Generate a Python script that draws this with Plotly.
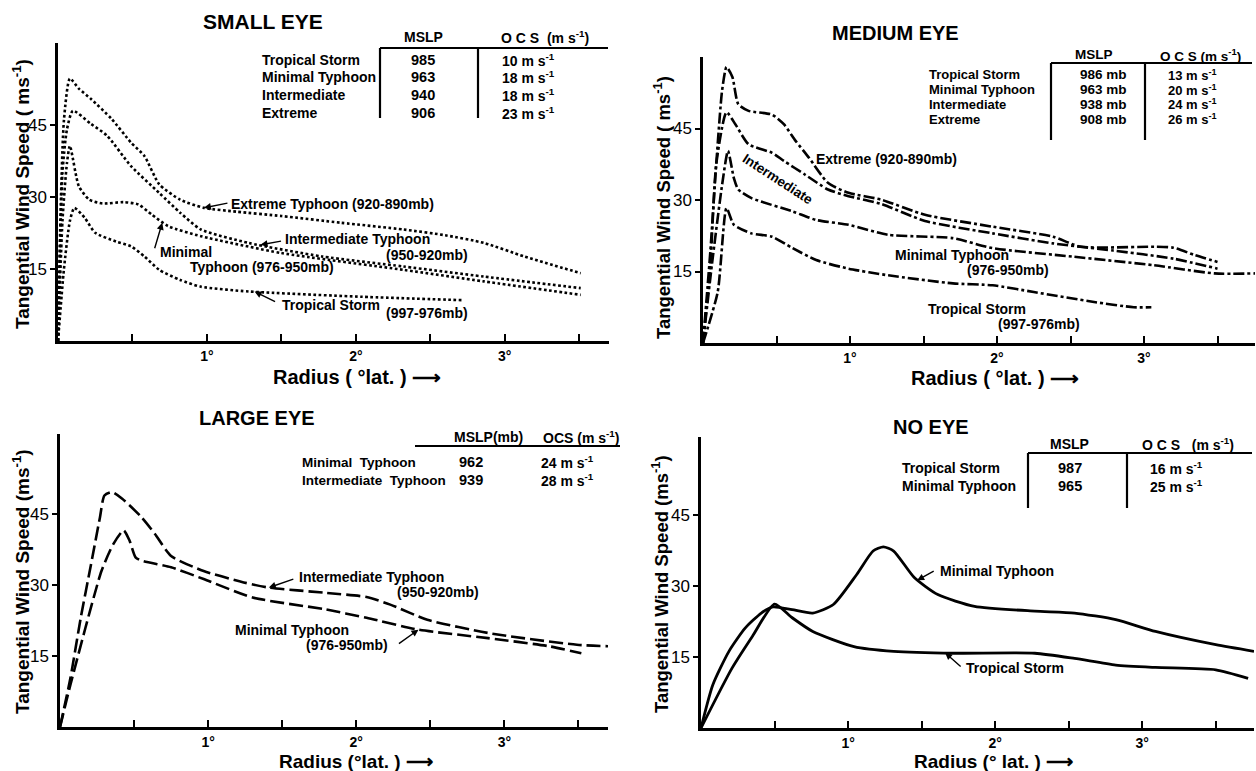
import plotly.graph_objects as go

W, H = 1256, 771

# ---------------- SMALL EYE (dotted) ----------------
small_ext_r = [0, 0.02, 0.04, 0.08, 0.14, 0.22, 0.36, 0.49, 0.58, 0.68, 0.82, 0.98, 1.2, 1.5, 1.9, 2.32, 2.6, 2.86, 3.13, 3.51]
small_ext_v = [0, 30, 46, 54.6, 52.5, 50.4, 46.2, 41.3, 38.5, 32.6, 29.4, 27.7, 26.9, 26.0, 24.6, 23.2, 22.0, 20.4, 17.6, 14.1]
small_int_r = [0, 0.03, 0.06, 0.10, 0.22, 0.33, 0.49, 0.68, 0.82, 0.96, 1.28, 1.77, 2.32, 2.86, 3.51]
small_int_v = [0, 35, 44, 47.9, 45.2, 42.7, 36.4, 30.8, 26.7, 23.2, 20.4, 17.6, 15.5, 13.4, 11.0]
small_min_r = [0, 0.03, 0.06, 0.08, 0.14, 0.21, 0.30, 0.44, 0.54, 0.63, 0.74, 0.96, 1.5, 2.32, 2.86, 3.51]
small_min_v = [0, 25, 37, 40.6, 32.2, 29.4, 28.6, 28.9, 28.4, 26.3, 23.9, 21.8, 18.3, 14.8, 12.4, 9.6]
small_ts_r = [0, 0.04, 0.08, 0.11, 0.18, 0.25, 0.39, 0.49, 0.58, 0.68, 0.82, 0.96, 1.28, 2.04, 2.72]
small_ts_v = [0, 15, 25, 27.7, 25.6, 22.5, 20.7, 19.7, 17.6, 14.8, 12.7, 11.3, 10.3, 9.2, 8.5]

# ---------------- MEDIUM EYE (dash-dot) ----------------
med_ext_r = [0, 0.05, 0.09, 0.13, 0.16, 0.20, 0.24, 0.31, 0.47, 0.55, 0.63, 0.72, 0.85, 0.99, 1.21, 1.51, 1.97, 2.38, 2.57, 3.07, 3.20, 3.34, 3.50]
med_ext_v = [0, 19.2, 37.5, 53.0, 57.9, 55.8, 50.1, 48.7, 47.9, 45.9, 42.4, 38.9, 33.6, 31.5, 30.1, 26.9, 24.4, 22.3, 20.2, 20.2, 20.0, 18.5, 17.0]
med_int_r = [0, 0.05, 0.09, 0.16, 0.22, 0.31, 0.47, 0.55, 0.69, 0.85, 0.99, 1.21, 1.51, 1.97, 2.38, 2.79, 3.20, 3.50]
med_int_v = [0, 16.3, 37.5, 48.4, 45.9, 41.7, 39.9, 38.2, 35.4, 32.2, 30.8, 29.2, 25.6, 23.0, 20.9, 19.4, 17.7, 15.6]
med_min_r = [0, 0.06, 0.13, 0.17, 0.21, 0.24, 0.33, 0.61, 0.77, 0.99, 1.26, 1.70, 1.97, 2.52, 3.07, 3.48, 3.76]
med_min_v = [0, 16.3, 33.2, 40.3, 34.6, 32.2, 30.4, 27.6, 25.8, 24.8, 22.7, 22.0, 19.9, 18.1, 16.3, 14.6, 14.6]
med_ts_r = [0, 0.10, 0.16, 0.21, 0.33, 0.47, 0.61, 0.77, 0.99, 1.26, 1.70, 1.97, 2.25, 2.66, 2.93, 3.05]
med_ts_v = [0, 10.7, 28.3, 24.8, 23.0, 22.3, 19.9, 17.4, 15.6, 14.2, 12.5, 12.1, 10.7, 8.6, 7.5, 7.5]

# ---------------- LARGE EYE (long dash) ----------------
lg_int_r = [0, 0.07, 0.14, 0.21, 0.27, 0.30, 0.35, 0.42, 0.55, 0.64, 0.75, 0.97, 1.24, 1.41, 1.79, 2.07, 2.23, 2.48, 2.89, 3.49, 3.70]
lg_int_v = [0, 10.3, 23.1, 34.5, 44.4, 49.0, 49.7, 48.3, 44.4, 40.9, 36.2, 33.0, 30.6, 29.5, 28.4, 27.5, 25.9, 22.7, 19.9, 17.4, 17.1]
lg_min_r = [0, 0.07, 0.28, 0.36, 0.43, 0.47, 0.51, 0.55, 0.75, 0.97, 1.30, 1.79, 2.07, 2.42, 2.89, 3.30, 3.52]
lg_min_v = [0, 8.9, 33.0, 38.7, 41.6, 39.4, 35.9, 35.2, 33.8, 31.3, 27.4, 24.9, 23.1, 20.6, 18.8, 17.1, 15.6]

# ---------------- NO EYE (solid) ----------------
no_min_r = [0, 0.08, 0.19, 0.30, 0.41, 0.49, 0.62, 0.76, 0.90, 1.06, 1.17, 1.24, 1.31, 1.45, 1.61, 1.86, 2.27, 2.54, 2.82, 3.09, 3.50, 3.76]
no_min_v = [0, 9.1, 16.2, 21.1, 24.3, 25.6, 25.0, 24.3, 26.1, 32.5, 37.4, 38.3, 37.4, 31.8, 28.2, 25.7, 24.7, 24.3, 22.9, 20.4, 17.6, 16.2]
no_ts_r = [0, 0.21, 0.35, 0.50, 0.62, 0.76, 1.04, 1.31, 1.72, 2.27, 2.54, 2.82, 3.09, 3.50, 3.72]
no_ts_v = [0, 12.6, 19.4, 26.2, 23.3, 20.4, 17.2, 16.2, 15.8, 15.8, 14.7, 13.3, 12.8, 12.3, 10.5]

# tick values
y_ticks = [15, 30, 45]
x_ticks = [0.5, 1, 1.5, 2, 2.5, 3, 3.5]
x_tick_text = ["", "1°", "", "2°", "", "3°", ""]

FONT = "Liberation Sans"
INK = "black"


def px(x):
    return x / W


def py(y):
    return 1 - y / H


fig = go.Figure()

# panel geometry in page pixels: (left, right, bottom, top, xmax, ymax)
panels = {
    1: (58, 609, 341, 43, 3.70, 62.0),
    2: (703, 1255, 343, 57, 3.755, 60.0),
    3: (60, 608, 727, 434, 3.70, 62.0),
    4: (701, 1254, 728, 437, 3.76, 61.5),
}

layout_axes = {}
for i, (l, r, b, t, xm, ym) in panels.items():
    sfx = "" if i == 1 else str(i)
    layout_axes["xaxis" + sfx] = dict(
        domain=[px(l), px(r)], range=[0, xm], anchor="y" + sfx,
        showline=True, linecolor=INK, linewidth=2.5, showgrid=False, zeroline=False,
        tickmode="array", tickvals=x_ticks, ticktext=x_tick_text,
        ticks="inside", ticklen=7, tickwidth=2, tickcolor=INK,
        tickfont=dict(family=FONT, size=14, color=INK, weight="bold"),
        ticklabelstandoff=0,
    )
    layout_axes["yaxis" + sfx] = dict(
        domain=[py(b), py(t)], range=[0, ym], anchor="x" + sfx,
        showline=True, linecolor=INK, linewidth=2.5, showgrid=False, zeroline=False,
        tickmode="array", tickvals=y_ticks,
        ticks="outside", ticklen=5, tickwidth=2, tickcolor=INK,
        tickfont=dict(family=FONT, size=17, color=INK),
        ticklabelstandoff=0,
    )


def curve(r, v, xa, ya, dash, width=2.6):
    fig.add_trace(go.Scatter(
        x=r, y=v, xaxis=xa, yaxis=ya, mode="lines",
        line=dict(color=INK, width=width, dash=dash, shape="spline", smoothing=0.6),
        showlegend=False, hoverinfo="skip",
    ))


DOT = "2.7px,2.5px"
DASHDOT = "11px,3px,3px,3px"
LONGDASH = "14px,5px"

curve(small_ext_r, small_ext_v, "x", "y", DOT)
curve(small_int_r, small_int_v, "x", "y", DOT)
curve(small_min_r, small_min_v, "x", "y", DOT)
curve(small_ts_r, small_ts_v, "x", "y", DOT)

curve(med_ext_r, med_ext_v, "x2", "y2", DASHDOT)
curve(med_int_r, med_int_v, "x2", "y2", DASHDOT)
curve(med_min_r, med_min_v, "x2", "y2", DASHDOT)
curve(med_ts_r, med_ts_v, "x2", "y2", DASHDOT)

curve(lg_int_r, lg_int_v, "x3", "y3", LONGDASH)
curve(lg_min_r, lg_min_v, "x3", "y3", LONGDASH)

curve(no_min_r, no_min_v, "x4", "y4", "solid", 2.8)
curve(no_ts_r, no_ts_v, "x4", "y4", "solid", 2.8)

ann = []
shapes = []


def text(x, y, s, size=14, xanchor="left", ref=("paper", "paper"), bold=True, angle=0, yanchor="middle"):
    ann.append(dict(
        x=x, y=y, xref=ref[0], yref=ref[1], text=s, showarrow=False,
        xanchor=xanchor, yanchor=yanchor, textangle=angle,
        font=dict(family=FONT, size=size, color=INK, weight="bold" if bold else "normal"),
    ))


def leader(x, y, ax, ay, xa, ya):
    ann.append(dict(
        x=x, y=y, xref=xa, yref=ya, text="", showarrow=True, ax=ax, ay=ay,
        arrowhead=2, arrowsize=1.0, arrowwidth=1.4, arrowcolor=INK,
    ))


def hline(x0, x1, y, w=2.2):
    shapes.append(dict(type="line", xref="paper", yref="paper", x0=px(x0), x1=px(x1),
                       y0=py(y), y1=py(y), line=dict(color=INK, width=w)))


def vline(x, y0, y1, w=2.2):
    shapes.append(dict(type="line", xref="paper", yref="paper", x0=px(x), x1=px(x),
                       y0=py(y0), y1=py(y1), line=dict(color=INK, width=w)))


# panel titles
text(px(263), py(21), "SMALL EYE", 21, "center")
text(px(895), py(33), "MEDIUM EYE", 20, "center")
text(px(257), py(418), "LARGE EYE", 20, "center")
text(px(931), py(427), "NO EYE", 20, "center")

# axis titles
YT = "Tangential Wind Speed ( ms<sup>-1</sup>)"
text(px(21), py(194), YT, 19, "center", angle=-90)
text(px(662), py(208), YT, 18.5, "center", angle=-90)
text(px(21), py(582), "Tangential Wind Speed (ms<sup>-1</sup>)", 19, "center", angle=-90)
text(px(660), py(584), "Tangential Wind Speed (ms<sup>-1</sup>)", 18.5, "center", angle=-90)
RT = "Radius ( °lat. ) ⟶"
text(px(357), py(377), RT, 20, "center")
text(px(995), py(378), RT, 20, "center")
text(px(356), py(761), "Radius (°lat. ) ⟶", 19, "center")
text(px(993), py(761), "Radius (° lat. ) ⟶", 19, "center")

# ---- SMALL EYE table ----
text(px(423), py(37), "MSLP", 14, "center")
text(px(545), py(37), "O C S  (m s<sup>-1</sup>)", 14, "center")
hline(380, 608, 48)
vline(380, 48, 118)
vline(478, 48, 118)
rows = [("Tropical Storm", "985", "10 m s<sup>-1</sup>"),
        ("Minimal Typhoon", "963", "18 m s<sup>-1</sup>"),
        ("Intermediate", "940", "18 m s<sup>-1</sup>"),
        ("Extreme", "906", "23 m s<sup>-1</sup>")]
for k, (a, b, c) in enumerate(rows):
    yy = 60 + k * 17.5
    text(px(260), py(yy), a, 14)
    text(px(423), py(yy), b, 14.5, "center")
    text(px(500), py(yy), c, 14)

# ---- MEDIUM EYE table ----
text(px(1094), py(55), "MSLP", 13.5, "center")
text(px(1200), py(55), "O C S (m s<sup>-1</sup>)", 13.5, "center")
hline(1051, 1252, 63)
vline(1051, 63, 140)
vline(1145, 63, 140)
rows = [("Tropical Storm", "986 mb", "13 m s<sup>-1</sup>"),
        ("Minimal Typhoon", "963 mb", "20 m s<sup>-1</sup>"),
        ("Intermediate", "938 mb", "24 m s<sup>-1</sup>"),
        ("Extreme", "908 mb", "26 m s<sup>-1</sup>")]
for k, (a, b, c) in enumerate(rows):
    yy = 75 + k * 14.7
    text(px(927), py(yy), a, 13)
    text(px(1103), py(yy), b, 13.5, "center")
    text(px(1166), py(yy), c, 13)

# ---- LARGE EYE table ----
text(px(488), py(437), "MSLP(mb)", 14, "center")
text(px(581), py(437), "OCS (m s<sup>-1</sup>)", 14, "center")
hline(415, 620, 446)
rows = [("Minimal  Typhoon", "962", "24 m s<sup>-1</sup>"),
        ("Intermediate  Typhoon", "939", "28 m s<sup>-1</sup>")]
for k, (a, b, c) in enumerate(rows):
    yy = 462 + k * 18
    text(px(300), py(yy), a, 13.5)
    text(px(471), py(yy), b, 14.5, "center")
    text(px(539), py(yy), c, 14)

# ---- NO EYE table ----
text(px(1069), py(444), "MSLP", 14, "center")
text(px(1188), py(444), "O C S   (m s<sup>-1</sup>)", 14, "center")
hline(1028, 1252, 453)
vline(1028, 453, 508)
vline(1127, 453, 508)
rows = [("Tropical Storm", "987", "16 m s<sup>-1</sup>"),
        ("Minimal Typhoon", "965", "25 m s<sup>-1</sup>")]
for k, (a, b, c) in enumerate(rows):
    yy = 468 + k * 18
    text(px(900), py(yy), a, 14)
    text(px(1070), py(yy), b, 14.5, "center")
    text(px(1148), py(yy), c, 14)

# ---- curve labels: SMALL EYE ----
d1 = ("x", "y")
text(1.15, 28.5, "Extreme Typhoon (920-890mb)", 14, ref=d1)
leader(0.98, 27.7, 25, -5, "x", "y")
text(1.51, 21.2, "Intermediate Typhoon", 14, ref=d1)
text(2.19, 17.9, "(950-920mb)", 14, ref=d1)
leader(1.36, 20.0, 22, -4, "x", "y")
text(0.86, 18.6, "Minimal", 14, "center", ref=d1)
text(0.87, 15.4, "Typhoon (976-950mb)", 14, ref=d1)
leader(0.70, 24.6, -8, 27, "x", "y")
text(1.49, 7.5, "Tropical Storm", 14, ref=d1)
text(2.19, 5.8, "(997-976mb)", 14, ref=d1)
leader(1.32, 10.3, 22, 11, "x", "y")

# ---- curve labels: MEDIUM EYE ----
d2 = ("x2", "y2")
text(0.755, 38.5, "Extreme (920-890mb)", 14, ref=d2)
text(0.51, 34.2, "Intermediate", 13.5, "center", ref=d2, angle=33)
text(1.29, 18.4, "Minimal Typhoon", 14, ref=d2)
text(1.78, 15.4, "(976-950mb)", 14, ref=d2)
text(1.52, 7.1, "Tropical Storm", 14, ref=d2)
text(1.99, 4.0, "(997-976mb)", 14, ref=d2)

# ---- curve labels: LARGE EYE ----
d3 = ("x3", "y3")
text(1.60, 31.7, "Intermediate Typhoon", 14, ref=d3)
text(2.26, 28.5, "(950-920mb)", 14, ref=d3)
leader(1.41, 29.5, 26, -9, "x3", "y3")
text(1.17, 20.5, "Minimal Typhoon", 14, ref=d3)
text(1.65, 17.3, "(976-950mb)", 14, ref=d3)
leader(2.42, 20.6, -21, 15, "x3", "y3")

# ---- curve labels: NO EYE ----
d4 = ("x4", "y4")
text(1.61, 33.2, "Minimal Typhoon", 14, ref=d4)
leader(1.47, 31.2, 18, -10, "x4", "y4")
text(1.79, 12.7, "Tropical Storm", 14, ref=d4)
leader(1.66, 15.9, 17, 15, "x4", "y4")

fig.update_layout(
    width=W, height=H,
    margin=dict(l=0, r=0, t=0, b=0),
    paper_bgcolor="white", plot_bgcolor="white",
    font=dict(family=FONT, color=INK),
    annotations=ann, shapes=shapes,
    showlegend=False,
    **layout_axes,
)

fig.write_html("out.html")
